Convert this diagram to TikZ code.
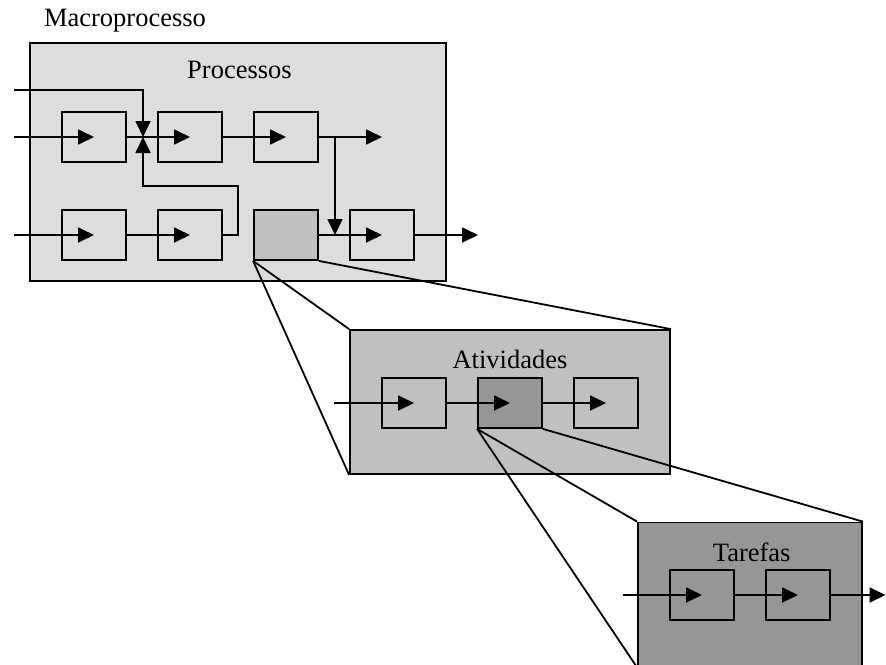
\documentclass[tikz,border=0pt]{standalone}
\usepackage{fontspec}
\setmainfont{Liberation Serif}
\usetikzlibrary{arrows.meta}

\definecolor{lvlone}{HTML}{DDDDDD}
\definecolor{lvltwo}{HTML}{C0C0C0}
\definecolor{lvlthree}{HTML}{969696}

\tikzset{
  outerbox/.style={draw, rectangle, inner sep=0pt},
  stepbox/.style={draw, rectangle, inner sep=0pt, minimum width=64pt, minimum height=50pt},
  arr/.style={-{Triangle[length=16pt,width=15pt]}},
  caption/.style={anchor=base, inner sep=0pt, font=\fontsize{26.5}{30}\selectfont},
}

\begin{document}
\begin{tikzpicture}[x=1pt, y=-1pt, line width=1.8pt]
\useasboundingbox (0,0) rectangle (886,664);
\clip (0,0) rectangle (886,664);

% ---------- level 1: processes ----------
\node[caption] (macro) at (125,26.5) {Macroprocesso};
\node[outerbox, fill=lvlone, minimum width=416pt, minimum height=238pt] (P) at (238,162) {};
\node[caption] (ptitle) at (239.5,78) {Processos};

\node[stepbox, fill=lvlone] (a1) at (94,137) {};
\node[stepbox, fill=lvlone] (a2) at (190,137) {};
\node[stepbox, fill=lvlone] (a3) at (286,137) {};
\node[stepbox, fill=lvlone] (b1) at (94,235) {};
\node[stepbox, fill=lvlone] (b2) at (190,235) {};
\node[stepbox, fill=lvltwo] (b3) at (286,235) {};
\node[stepbox, fill=lvlone] (b4) at (382,235) {};

\coordinate (in0) at (14,90);
\coordinate (in1) at (14,137);
\coordinate (in2) at (14,235);
\coordinate (j) at (143,137);
\coordinate (k1) at (238,186);
\coordinate (br) at (335,137);
\coordinate (brtip) at (335,235);
\coordinate (out1) at (382,137);
\coordinate (out2) at (478,235);

\draw[arr] (in1) -- (a1.center);
\draw[arr] (a1.east) -- (a2.center);
\draw[arr] (a2.east) -- (a3.center);
\draw[arr] (a3.east) -- (out1);
\draw[arr] (in0) -| (j);
\draw[arr] (b2.east) -| (k1) -| (j);
\draw[arr] (br) -- (brtip);
\draw[arr] (in2) -- (b1.center);
\draw[arr] (b1.east) -- (b2.center);
\draw[arr] (b3.east) -- (b4.center);
\draw[arr] (b4.east) -- (out2);

% ---------- level 2: activities ----------
\node[outerbox, fill=lvltwo, minimum width=320pt, minimum height=144pt] (A) at (510,402) {};
\node[caption] (atitle) at (510,368.3) {Atividades};

\node[stepbox, fill=lvltwo] (c1) at (414,403) {};
\node[stepbox, fill=lvlthree] (c2) at (510,403) {};
\node[stepbox, fill=lvltwo] (c3) at (606,403) {};

\coordinate (in3) at (334,403);
\draw[arr] (in3) -- (c1.center);
\draw[arr] (c1.east) -- (c2.center);
\draw[arr] (c2.east) -- (c3.center);

% ---------- level 3: tasks ----------
\node[outerbox, fill=lvlthree, minimum width=224pt, minimum height=144pt] (T) at (750,594.5) {};
\node[caption] (ttitle) at (751.7,561) {Tarefas};

\node[stepbox, fill=lvlthree] (d1) at (702,595) {};
\node[stepbox, fill=lvlthree] (d2) at (798,595) {};

\coordinate (in4) at (623,595);
\coordinate (out4) at (885.5,595);
\draw[arr] (in4) -- (d1.center);
\draw[arr] (d1.east) -- (d2.center);
\draw[arr] (d2.east) -- (out4);

% ---------- zoom lines ----------
\draw (b3.south west) -- (A.north west);
\draw (b3.south west) -- (A.south west);
\draw (b3.south east) -- (A.north east);
\draw (c2.south west) -- (T.north west);
\draw (c2.south west) -- (T.south west);
\draw (c2.south east) -- (T.north east);
\end{tikzpicture}
\end{document}
